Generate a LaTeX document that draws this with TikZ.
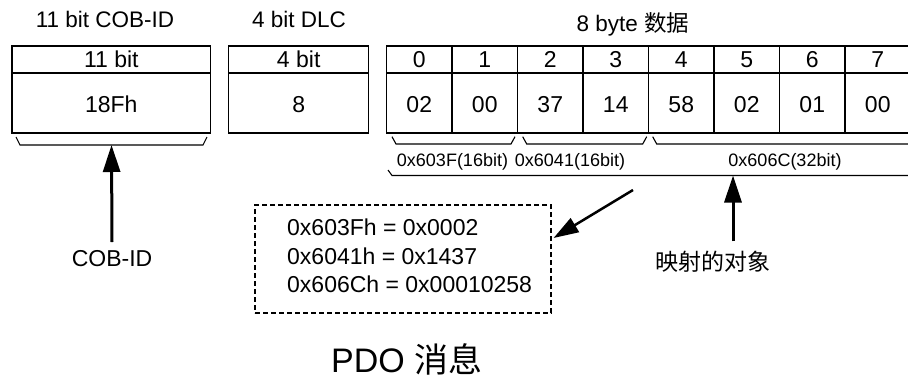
\documentclass[tikz,border=0pt]{standalone}
\usepackage{fontspec}
\setmainfont{Liberation Sans}
\newfontfamily\cjk{Noto Sans CJK SC}
\usetikzlibrary{arrows.meta,calc}
\begin{document}
\begin{tikzpicture}[x=1pt,y=-1pt,
  cellbox/.style={draw,line width=1.3pt,inner sep=0pt,font=\fontsize{23}{26}\selectfont},
  hcell/.style={cellbox,minimum height=27pt},
  vcell/.style={cellbox,minimum height=60pt,text height=19pt,text depth=0pt},
  title/.style={anchor=base,inner sep=0pt,font=\fontsize{22.5}{26}\selectfont},
  brlabel/.style={anchor=base,inner sep=0pt,font=\fontsize{18}{22}\selectfont},
  brace/.style={line width=1.1pt},
  bigarrow/.style={line width=3pt,-{Triangle[length=27pt,width=17pt]}},
  diagarrow/.style={line width=2.5pt,-{Triangle[length=25pt,width=16pt]}},
  mapbox/.style={draw,dash pattern=on 5pt off 3pt,line width=1.1pt,inner sep=0pt,minimum width=296pt,minimum height=108pt},
  maptext/.style={anchor=base west,inner sep=0pt,align=left,font=\fontsize{23}{28.5}\selectfont}
]
\useasboundingbox (0,0) rectangle (908,378);
\clip (0,0) rectangle (908,378);

% titles
\node[title] (t1) at (105,27.3) {11 bit COB-ID};
\node[title] (t2) at (299,27.3) {4 bit DLC};
\node[title] (t3) at (633,31.7) {8 byte {\cjk 数据}};

% COB-ID box
\node[hcell,minimum width=198.5pt] (cobh) at (111.3,59.5) {11 bit};
\node[vcell,minimum width=198.5pt] (cobv) at (111.3,103) {18Fh};
% DLC box
\node[hcell,minimum width=140pt] (dlch) at (298.7,59.5) {4 bit};
\node[vcell,minimum width=140pt] (dlcv) at (298.7,103) {8};
% data cells
\foreach \i/\v in {0/02,1/00,2/37,3/14,4/58,5/02,6/01,7/00} {
  \node[hcell,minimum width=65.5pt] (h\i) at ({386.5+65.5*(\i+0.5)},59.5) {\i};
  \node[vcell,minimum width=65.5pt] (v\i) at ({386.5+65.5*(\i+0.5)},103) {\v};
}

% braces
\draw[brace] (16,137) -- (20,145) -- (203,145) -- (207,137);
\draw[brace] (392,136.7) -- (396,144) -- (511,144) -- (515,136.7);
\draw[brace] (522.7,136.7) -- (526.7,144) -- (642.7,144) -- (646.7,136.7);
\draw[brace] (652.7,136.7) -- (656.7,144) -- (912,144) -- (916,136.7);
\draw[brace] (388,170) -- (392,175.5) -- (920,175.5) -- (924,170);

% brace labels
\node[brlabel] (l1) at (452.5,166.7) {0x603F(16bit)};
\node[brlabel] (l2) at (570,166.7) {0x6041(16bit)};
\node[brlabel] (l3) at (785,166.7) {0x606C(32bit)};

% coordinates of brace tips
\coordinate (cobtip) at (111.5,145);
\coordinate (maptip) at (733,175.5);
\coordinate (diagstart) at (633,190);

% labels
\node[title,font=\fontsize{23}{26}\selectfont] (coblabel) at (112,266.7) {COB-ID};
\node[title,font=\fontsize{23}{26}\cjk] (objlabel) at (713,270) {映射的对象};

% mapping box
\node[mapbox] (mbox) at (403,259) {};
\node[maptext] (mtext) at (287,292.7) {0x603Fh = 0x0002\\0x6041h = 0x1437\\0x606Ch = 0x00010258};

% arrows
\draw[bigarrow] (coblabel.north |- 0,242) -- (cobtip);
\draw[bigarrow] (objlabel.north -| maptip) ++(0,-9) -- (maptip);
\draw[diagarrow] (diagstart) -- ([xshift=2pt,yshift=21pt]mbox.east);

% footer
\node[title,font=\fontsize{34}{40}\selectfont] (footer) at (406.7,372) {PDO {\cjk 消息}};
\end{tikzpicture}
\end{document}
